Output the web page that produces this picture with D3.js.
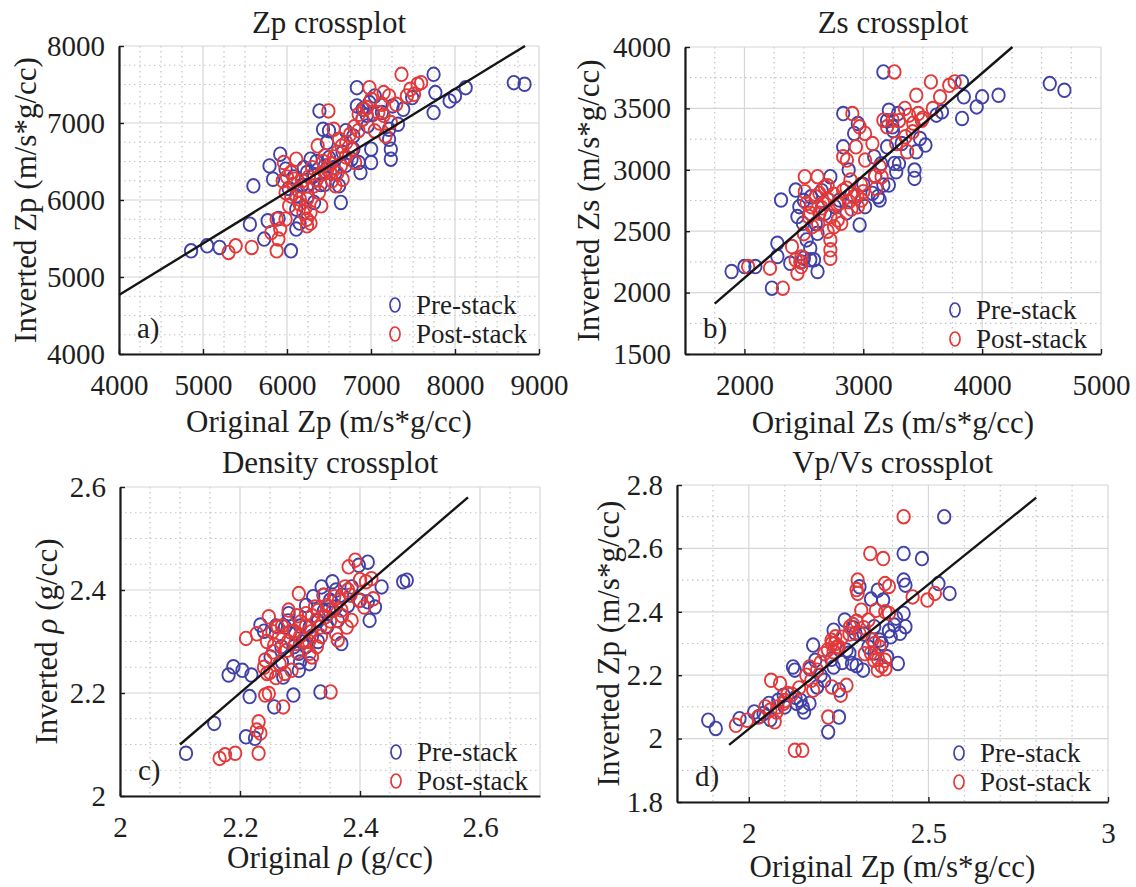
<!DOCTYPE html>
<html>
<head>
<meta charset="utf-8">
<script src="https://cdn.jsdelivr.net/npm/d3@7"></script>
<style>
  body { margin: 0; background: #fff; }
  svg { display: block; }
  text { font-family: "Liberation Serif", "Times New Roman", serif; fill: #1e1e1e; }
</style>
</head>
<body>
<svg id="chart" width="1136" height="887"></svg>
<script>
const seriesNames = ['Pre-stack', 'Post-stack'];
const seriesColors = ['#4141a8', '#e2393a'];

// a) Zp crossplot, [original, inverted]
const zpPre = [[4858,5340],[5049,5405],[5197,5384],[5558,5686],[5600,6184],[5792,6443],[5770,5730],[5728,5492],[5834,6270],[5919,6595],[5983,6400],[6047,5340],[6110,6054],[6110,5881],[6110,5622],[6238,6357],[6238,6184],[6280,6530],[6323,5968],[6386,7157],[6429,6919],[6450,6443],[6475,6746],[6641,5968],[6662,6616],[6790,6660],[6790,6832],[6832,7459],[6832,7222],[6853,6487],[6875,6357],[6896,7049],[6960,6962],[7002,6660],[7002,6487],[7023,7114],[6981,7265],[7215,6919],[7215,6789],[7236,6660],[7236,6530],[7257,7222],[7321,6984],[7384,7178],[7490,7330],[7745,7632],[7745,7135],[7766,7395],[7936,7287],[8000,7351],[8127,7459],[8700,7524],[8828,7503],[7130,7135],[7045,7351],[6620,6184],[6577,6357],[6174,6184],[6323,6313],[6450,6205],[6768,6530],
  [6020,6150],[6080,6300],[6200,6420],[6350,6500],[6400,6200],[6500,6550],[6550,6420],[6700,6450],[6900,7180],[6950,7100],[6250,6050],[6150,5700],[5900,5760],[6500,6900],[6700,6900]];
const zpPost = [[5304,5319],[5389,5405],[5580,5384],[5877,5340],[5898,5492],[5919,5622],[5877,5751],[5983,5751],[6110,6530],[6047,6357],[5983,6097],[6025,5924],[6153,6011],[6195,5838],[6238,5751],[6238,5665],[6280,5838],[6238,6011],[6365,6703],[6450,6573],[6493,7157],[6514,6357],[6535,6249],[6556,6919],[6620,6789],[6641,6443],[6662,6270],[6705,6746],[6768,6660],[6811,6487],[6853,7114],[6917,7178],[6981,7459],[7002,7308],[7045,6897],[7087,7135],[7130,7243],[7151,7395],[7172,6832],[7215,7351],[7236,7005],[7300,7243],[7363,7632],[7427,7351],[7469,7438],[7554,7503],[7597,7524],[7512,7373],[6408,5924],[6323,6184],[6089,6270],[5962,6487],[6577,6184],[5813,5578],
  [6070,6200],[6130,6130],[6180,6250],[6260,6300],[6300,6420],[6350,6260],[6400,6330],[6430,6500],[6480,6400],[6520,6470],[6560,6560],[6600,6620],[6650,6700],[6700,6560],[6750,6850],[6800,6950],[6850,6900],[6900,7050],[6950,7200],[7100,7000],[7150,7100],[6220,5900],[6280,5700],[6150,5950],[6050,6050],[6000,6300],[5950,6250],[6380,6100],[6450,6350],[6600,6350]];
const zpFit = [[4000,4766],[8833,8000]];

// b) Zs crossplot
const zsPre = [[1892,2172],[2000,2212],[2092,2212],[2231,2036],[2277,2402],[2308,2754],[2277,2294],[2385,2239],[2431,2835],[2462,2700],[2492,2564],[2523,2429],[2554,2361],[2554,2267],[2615,2172],[2615,2483],[2677,2646],[2723,2944],[2800,2754],[2831,3187],[2831,3458],[2877,2998],[2923,3296],[2954,3377],[2969,2551],[3015,2700],[3077,2808],[3123,2781],[3138,2754],[3169,2876],[3169,3797],[3200,3187],[3215,3485],[3215,2876],[3246,3350],[3262,3052],[3277,2984],[3292,3458],[3323,3214],[3431,2998],[3431,2930],[3446,3147],[3477,3255],[3523,3201],[3615,3445],[3662,3472],[3831,3418],[3831,3716],[3846,3594],[3954,3512],[4000,3594],[4138,3607],[4569,3702],[4692,3648],[2446,2619],[2585,2267],[3092,3106],
  [2500,2750],[2560,2780],[2650,2830],[2700,2760],[2760,2700],[2860,2650],[2900,2800],[3000,2880],[3100,2950],[3150,3050],[3200,3400],[3250,3320],[3300,3050],[2600,2560],[2480,2250],[2500,2280]];
const zsPost = [[2031,2212],[2215,2199],[2323,2036],[2400,2375],[2431,2267],[2446,2158],[2477,2212],[2508,2944],[2508,2822],[2523,2727],[2554,2646],[2569,2537],[2615,2944],[2631,2808],[2631,2646],[2662,2727],[2677,2862],[2708,2754],[2723,2619],[2723,2429],[2723,2348],[2723,2280],[2754,2537],[2785,2592],[2815,2564],[2831,3106],[2862,3079],[2892,2917],[2908,3458],[2923,2781],[2938,3187],[2954,2700],[2969,3350],[2985,2754],[3000,2822],[3015,3296],[3015,3079],[3108,2849],[3138,3025],[3154,2944],[3169,3404],[3246,3404],[3262,3797],[3277,3214],[3369,3147],[3385,3445],[3415,3309],[3446,3607],[3462,3458],[3492,3404],[3569,3716],[3585,3499],[3646,3594],[3723,3688],[3769,3716],[3354,3269],[3077,3214],[2800,2727],
  [2560,2700],[2600,2780],[2650,2690],[2700,2870],[2750,2800],[2780,2720],[2830,2830],[2880,2740],[2900,2680],[2950,2790],[2980,2880],[2620,2560],[2540,2620],[2480,2290],[2470,2250],[2500,2480],[3100,2950],[3200,3350],[3300,3400],[3350,3500],[3420,3380],[3500,3420],[2860,2850],[2700,2500]];
const zsFit = [[1750,1910],[4255,4000]];

// c) Density crossplot
const rhoPre = [[2.110,2.083],[2.157,2.141],[2.181,2.235],[2.189,2.251],[2.204,2.244],[2.219,2.235],[2.210,2.115],[2.225,2.112],[2.216,2.193],[2.234,2.332],[2.257,2.173],[2.269,2.290],[2.275,2.328],[2.281,2.354],[2.289,2.196],[2.298,2.244],[2.304,2.299],[2.316,2.257],[2.322,2.387],[2.334,2.202],[2.336,2.406],[2.339,2.390],[2.328,2.341],[2.345,2.328],[2.354,2.416],[2.360,2.367],[2.369,2.296],[2.398,2.448],[2.413,2.454],[2.413,2.377],[2.416,2.341],[2.425,2.367],[2.436,2.406],[2.472,2.416],[2.478,2.419],[2.310,2.290],[2.292,2.315],[2.251,2.270],[2.348,2.361],[2.363,2.341],[2.386,2.406],[2.316,2.328],[2.272,2.231],[2.298,2.277],
  [2.24,2.32],[2.26,2.33],[2.28,2.34],[2.30,2.33],[2.32,2.31],[2.33,2.34],[2.34,2.36],[2.35,2.38],[2.36,2.40],[2.37,2.39],[2.31,2.37],[2.29,2.29],[2.30,2.26],[2.33,2.30],[2.345,2.33],[2.38,2.37],[2.40,2.38],[2.27,2.26]];
const rhoPost = [[2.166,2.073],[2.175,2.080],[2.192,2.083],[2.231,2.083],[2.228,2.128],[2.231,2.144],[2.234,2.122],[2.242,2.196],[2.248,2.199],[2.210,2.306],[2.242,2.264],[2.245,2.238],[2.248,2.348],[2.254,2.319],[2.257,2.293],[2.263,2.328],[2.266,2.257],[2.272,2.173],[2.275,2.238],[2.278,2.283],[2.284,2.319],[2.286,2.244],[2.292,2.296],[2.298,2.393],[2.301,2.338],[2.307,2.303],[2.310,2.354],[2.316,2.277],[2.319,2.319],[2.325,2.367],[2.328,2.290],[2.334,2.328],[2.342,2.348],[2.351,2.202],[2.357,2.387],[2.360,2.315],[2.363,2.303],[2.369,2.361],[2.375,2.406],[2.378,2.328],[2.381,2.445],[2.386,2.341],[2.392,2.458],[2.398,2.380],[2.407,2.367],[2.419,2.422],[2.410,2.416],[2.422,2.383],[2.384,2.390],[2.281,2.361],[2.228,2.315],
  [2.245,2.30],[2.255,2.28],[2.265,2.31],[2.27,2.33],[2.28,2.30],[2.29,2.32],[2.295,2.35],[2.30,2.31],[2.31,2.33],[2.315,2.30],[2.32,2.35],[2.33,2.36],[2.335,2.31],[2.345,2.37],[2.35,2.34],[2.355,2.36],[2.365,2.38],[2.37,2.35],[2.24,2.25],[2.25,2.24],[2.26,2.23],[2.295,2.28],[2.32,2.27],[2.38,2.40],[2.40,2.42],[2.34,2.39]];
const rhoFit = [[2.1,2.1],[2.58,2.58]];

// d) Vp/Vs crossplot
const vpvsPre = [[1.887,2.058],[1.908,2.032],[1.974,2.063],[2.015,2.084],[2.041,2.079],[2.056,2.111],[2.082,2.121],[2.097,2.137],[2.123,2.226],[2.128,2.216],[2.133,2.111],[2.144,2.121],[2.154,2.084],[2.179,2.295],[2.185,2.247],[2.190,2.163],[2.221,2.021],[2.236,2.342],[2.236,2.226],[2.251,2.068],[2.267,2.374],[2.272,2.279],[2.287,2.237],[2.297,2.332],[2.308,2.479],[2.318,2.216],[2.333,2.289],[2.359,2.468],[2.374,2.437],[2.385,2.258],[2.395,2.321],[2.405,2.358],[2.415,2.237],[2.421,2.332],[2.431,2.584],[2.431,2.500],[2.436,2.484],[2.431,2.395],[2.436,2.353],[2.482,2.568],[2.528,2.489],[2.544,2.700],[2.559,2.458],[2.251,2.153],[2.210,2.184],[2.169,2.111],[2.349,2.353],[2.364,2.311],
  [2.10,2.10],[2.13,2.13],[2.15,2.10],[2.17,2.22],[2.20,2.20],[2.23,2.25],[2.26,2.24],[2.28,2.27],[2.30,2.23],[2.32,2.33],[2.35,2.27],[2.37,2.30],[2.39,2.34],[2.41,2.38],[2.06,2.06],[2.03,2.07],[2.29,2.35],[2.34,2.44]];
const vpvsPost = [[1.964,2.042],[1.995,2.058],[2.026,2.068],[2.062,2.184],[2.072,2.053],[2.077,2.084],[2.087,2.174],[2.097,2.111],[2.108,2.142],[2.128,1.963],[2.149,1.963],[2.169,2.226],[2.174,2.184],[2.179,2.153],[2.221,2.068],[2.231,2.300],[2.236,2.274],[2.241,2.321],[2.246,2.289],[2.231,2.163],[2.256,2.137],[2.272,2.168],[2.282,2.353],[2.303,2.500],[2.303,2.458],[2.308,2.332],[2.323,2.268],[2.333,2.374],[2.338,2.584],[2.344,2.311],[2.349,2.247],[2.354,2.405],[2.359,2.216],[2.364,2.289],[2.374,2.568],[2.379,2.489],[2.379,2.247],[2.390,2.395],[2.431,2.700],[2.456,2.447],[2.497,2.437],[2.518,2.458],[2.190,2.216],[2.313,2.405],[2.210,2.268],[2.046,2.100],
  [2.10,2.12],[2.12,2.14],[2.14,2.16],[2.16,2.20],[2.20,2.24],[2.22,2.28],[2.23,2.31],[2.24,2.30],[2.25,2.29],[2.26,2.32],[2.28,2.33],[2.29,2.36],[2.30,2.37],[2.32,2.35],[2.34,2.27],[2.35,2.30],[2.36,2.25],[2.37,2.23],[2.38,2.22],[2.06,2.09],[2.08,2.10],[2.38,2.40],[2.39,2.48],[2.30,2.47]];
const vpvsFit = [[1.945,1.98],[2.8,2.76]];

const panels = [
  { title: 'Zp crossplot', tag: 'a)', xLabel: 'Original Zp (m/s*g/cc)', yLabel: 'Inverted Zp (m/s*g/cc)',
    pre: zpPre, post: zpPost, fit: zpFit,
    xDomain: [4000, 9000], yDomain: [4000, 8000], xTicks: [4000, 5000, 6000, 7000, 8000, 9000], yTicks: [4000, 5000, 6000, 7000, 8000],
    xMinor: 250, yMinor: 250,
    left: 119, right: 539, top: 46, bottom: 354, titleY: 33, xLabelY: 432, yLabelX: 25, legendX: 395, legendY: 305 },
  { title: 'Zs crossplot', tag: 'b)', xLabel: 'Original Zs (m/s*g/cc)', yLabel: 'Inverted Zs (m/s*g/cc)',
    pre: zsPre, post: zsPost, fit: zsFit,
    xDomain: [1500, 5000], yDomain: [1500, 4000], xTicks: [2000, 3000, 4000, 5000], yTicks: [1500, 2000, 2500, 3000, 3500, 4000],
    xMinor: 250, yMinor: 250,
    left: 685, right: 1101, top: 47, bottom: 354, titleY: 33, xLabelY: 433, yLabelX: 588, legendX: 955, legendY: 310 },
  { title: 'Density crossplot', tag: 'c)', xLabel: 'Original ρ (g/cc)', yLabel: 'Inverted ρ (g/cc)',
    pre: rhoPre, post: rhoPost, fit: rhoFit,
    xDomain: [2, 2.7], yDomain: [2, 2.6], xTicks: [2, 2.2, 2.4, 2.6], yTicks: [2, 2.2, 2.4, 2.6],
    xMinor: 0.05, yMinor: 0.05,
    left: 120, right: 540, top: 487, bottom: 796, titleY: 473, xLabelY: 868, yLabelX: 46, legendX: 396, legendY: 752 },
  { title: 'Vp/Vs crossplot', tag: 'd)', xLabel: 'Original Zp (m/s*g/cc)', yLabel: 'Inverted Zp (m/s*g/cc)',
    pre: vpvsPre, post: vpvsPost, fit: vpvsFit,
    xDomain: [1.8, 3], yDomain: [1.8, 2.8], xTicks: [2, 2.5, 3], yTicks: [1.8, 2, 2.2, 2.4, 2.6, 2.8],
    xMinor: 0.1, yMinor: 0.1,
    left: 677, right: 1108, top: 485, bottom: 802, titleY: 473, xLabelY: 877, yLabelX: 608, legendX: 959, legendY: 753 }
];

const svg = d3.select('#chart');
const fmt = d3.format('~g');

// values on a regular step, skipping the major ticks
function minorSteps(domain, step, majors) {
  const n = Math.round((domain[1] - domain[0]) / step);
  const out = [];
  for (let i = 0; i <= n; i++) {
    const v = +(domain[0] + i * step).toFixed(6);
    if (!majors.some((m) => Math.abs(m - v) < step / 10)) {
      out.push(v);
    }
  }
  return out;
}

// renders "ρ" in italic inside a label
function richText(sel, str) {
  str.split(/(ρ)/).forEach((part) => {
    if (!part) { return; }
    sel.append('tspan').attr('font-style', part === 'ρ' ? 'italic' : null).text(part);
  });
}

panels.forEach((p) => {
  const x = d3.scaleLinear().domain(p.xDomain).range([p.left, p.right]);
  const y = d3.scaleLinear().domain(p.yDomain).range([p.bottom, p.top]);
  const g = svg.append('g');

  const xMajor = Array.from(new Set([p.xDomain[0], ...p.xTicks, p.xDomain[1]]));
  const yMajor = Array.from(new Set([p.yDomain[0], ...p.yTicks, p.yDomain[1]]));

  // minor grid
  g.selectAll('.minor-x')
    .data(minorSteps(p.xDomain, p.xMinor, xMajor))
    .enter()
    .append('line')
    .attr('x1', (d) => x(d)).attr('x2', (d) => x(d))
    .attr('y1', p.top).attr('y2', p.bottom)
    .attr('stroke', '#c4c4c4').attr('stroke-width', 1.2).attr('stroke-dasharray', '1.5,3.5');
  g.selectAll('.minor-y')
    .data(minorSteps(p.yDomain, p.yMinor, yMajor))
    .enter()
    .append('line')
    .attr('x1', p.left).attr('x2', p.right)
    .attr('y1', (d) => y(d)).attr('y2', (d) => y(d))
    .attr('stroke', '#c4c4c4').attr('stroke-width', 1.2).attr('stroke-dasharray', '1.5,3.5');

  // major grid (also closes the box on top and right)
  g.selectAll('.major-x')
    .data(xMajor)
    .enter()
    .append('line')
    .attr('x1', (d) => x(d)).attr('x2', (d) => x(d))
    .attr('y1', p.top).attr('y2', p.bottom)
    .attr('stroke', '#d6d6d6').attr('stroke-width', 1.2);
  g.selectAll('.major-y')
    .data(yMajor)
    .enter()
    .append('line')
    .attr('x1', p.left).attr('x2', p.right)
    .attr('y1', (d) => y(d)).attr('y2', (d) => y(d))
    .attr('stroke', '#d6d6d6').attr('stroke-width', 1.2);

  // points
  [p.pre, p.post].forEach((series, i) => {
    g.append('g')
      .selectAll('ellipse')
      .data(series)
      .enter()
      .append('ellipse')
      .attr('cx', (d) => x(d[0]))
      .attr('cy', (d) => y(d[1]))
      .attr('rx', 6.2)
      .attr('ry', 6.8)
      .attr('fill', 'none')
      .attr('stroke', seriesColors[i])
      .attr('stroke-width', 1.9);
  });

  // fitted line
  g.append('line')
    .attr('x1', x(p.fit[0][0])).attr('y1', y(p.fit[0][1]))
    .attr('x2', x(p.fit[1][0])).attr('y2', y(p.fit[1][1]))
    .attr('stroke', '#151515').attr('stroke-width', 2.4);

  // axes
  const xAxis = g.append('g')
    .attr('transform', `translate(0,${p.bottom})`)
    .call(d3.axisBottom(x).tickValues(p.xTicks).tickFormat(fmt).tickSizeInner(-5).tickSizeOuter(0).tickPadding(20));
  const yAxis = g.append('g')
    .attr('transform', `translate(${p.left},0)`)
    .call(d3.axisLeft(y).tickValues(p.yTicks).tickFormat(fmt).tickSizeInner(-5).tickSizeOuter(0).tickPadding(14));
  [xAxis, yAxis].forEach((a) => {
    a.attr('font-family', null).attr('font-size', 29);
    a.select('.domain').attr('stroke', '#1a1a1a').attr('stroke-width', 2.2);
    a.selectAll('.tick line').attr('stroke', '#1a1a1a').attr('stroke-width', 1.4);
    a.selectAll('.tick text').attr('fill', '#1e1e1e');
  });

  // title and labels
  g.append('text')
    .attr('x', (p.left + p.right) / 2).attr('y', p.titleY)
    .attr('text-anchor', 'middle').attr('font-size', 31)
    .text(p.title);
  richText(g.append('text')
    .attr('x', (p.left + p.right) / 2).attr('y', p.xLabelY)
    .attr('text-anchor', 'middle').attr('font-size', 31), p.xLabel);
  richText(g.append('text')
    .attr('transform', `translate(${p.yLabelX},${(p.top + p.bottom) / 2}) rotate(-90)`)
    .attr('dy', '0.35em')
    .attr('text-anchor', 'middle').attr('font-size', 31), p.yLabel);
  g.append('text')
    .attr('x', p.left + 18).attr('y', p.bottom - 16)
    .attr('font-size', 29)
    .text(p.tag);

  // legend
  const legend = g.append('g').attr('transform', `translate(${p.legendX},${p.legendY})`);
  seriesNames.forEach((name, i) => {
    legend.append('ellipse')
      .attr('cx', 0).attr('cy', i * 29)
      .attr('rx', 5).attr('ry', 7)
      .attr('fill', 'none').attr('stroke', seriesColors[i]).attr('stroke-width', 1.7);
    legend.append('text')
      .attr('x', 21).attr('y', i * 29).attr('dy', '0.33em')
      .attr('font-size', 27)
      .text(name);
  });
});
</script>
</body>
</html>
